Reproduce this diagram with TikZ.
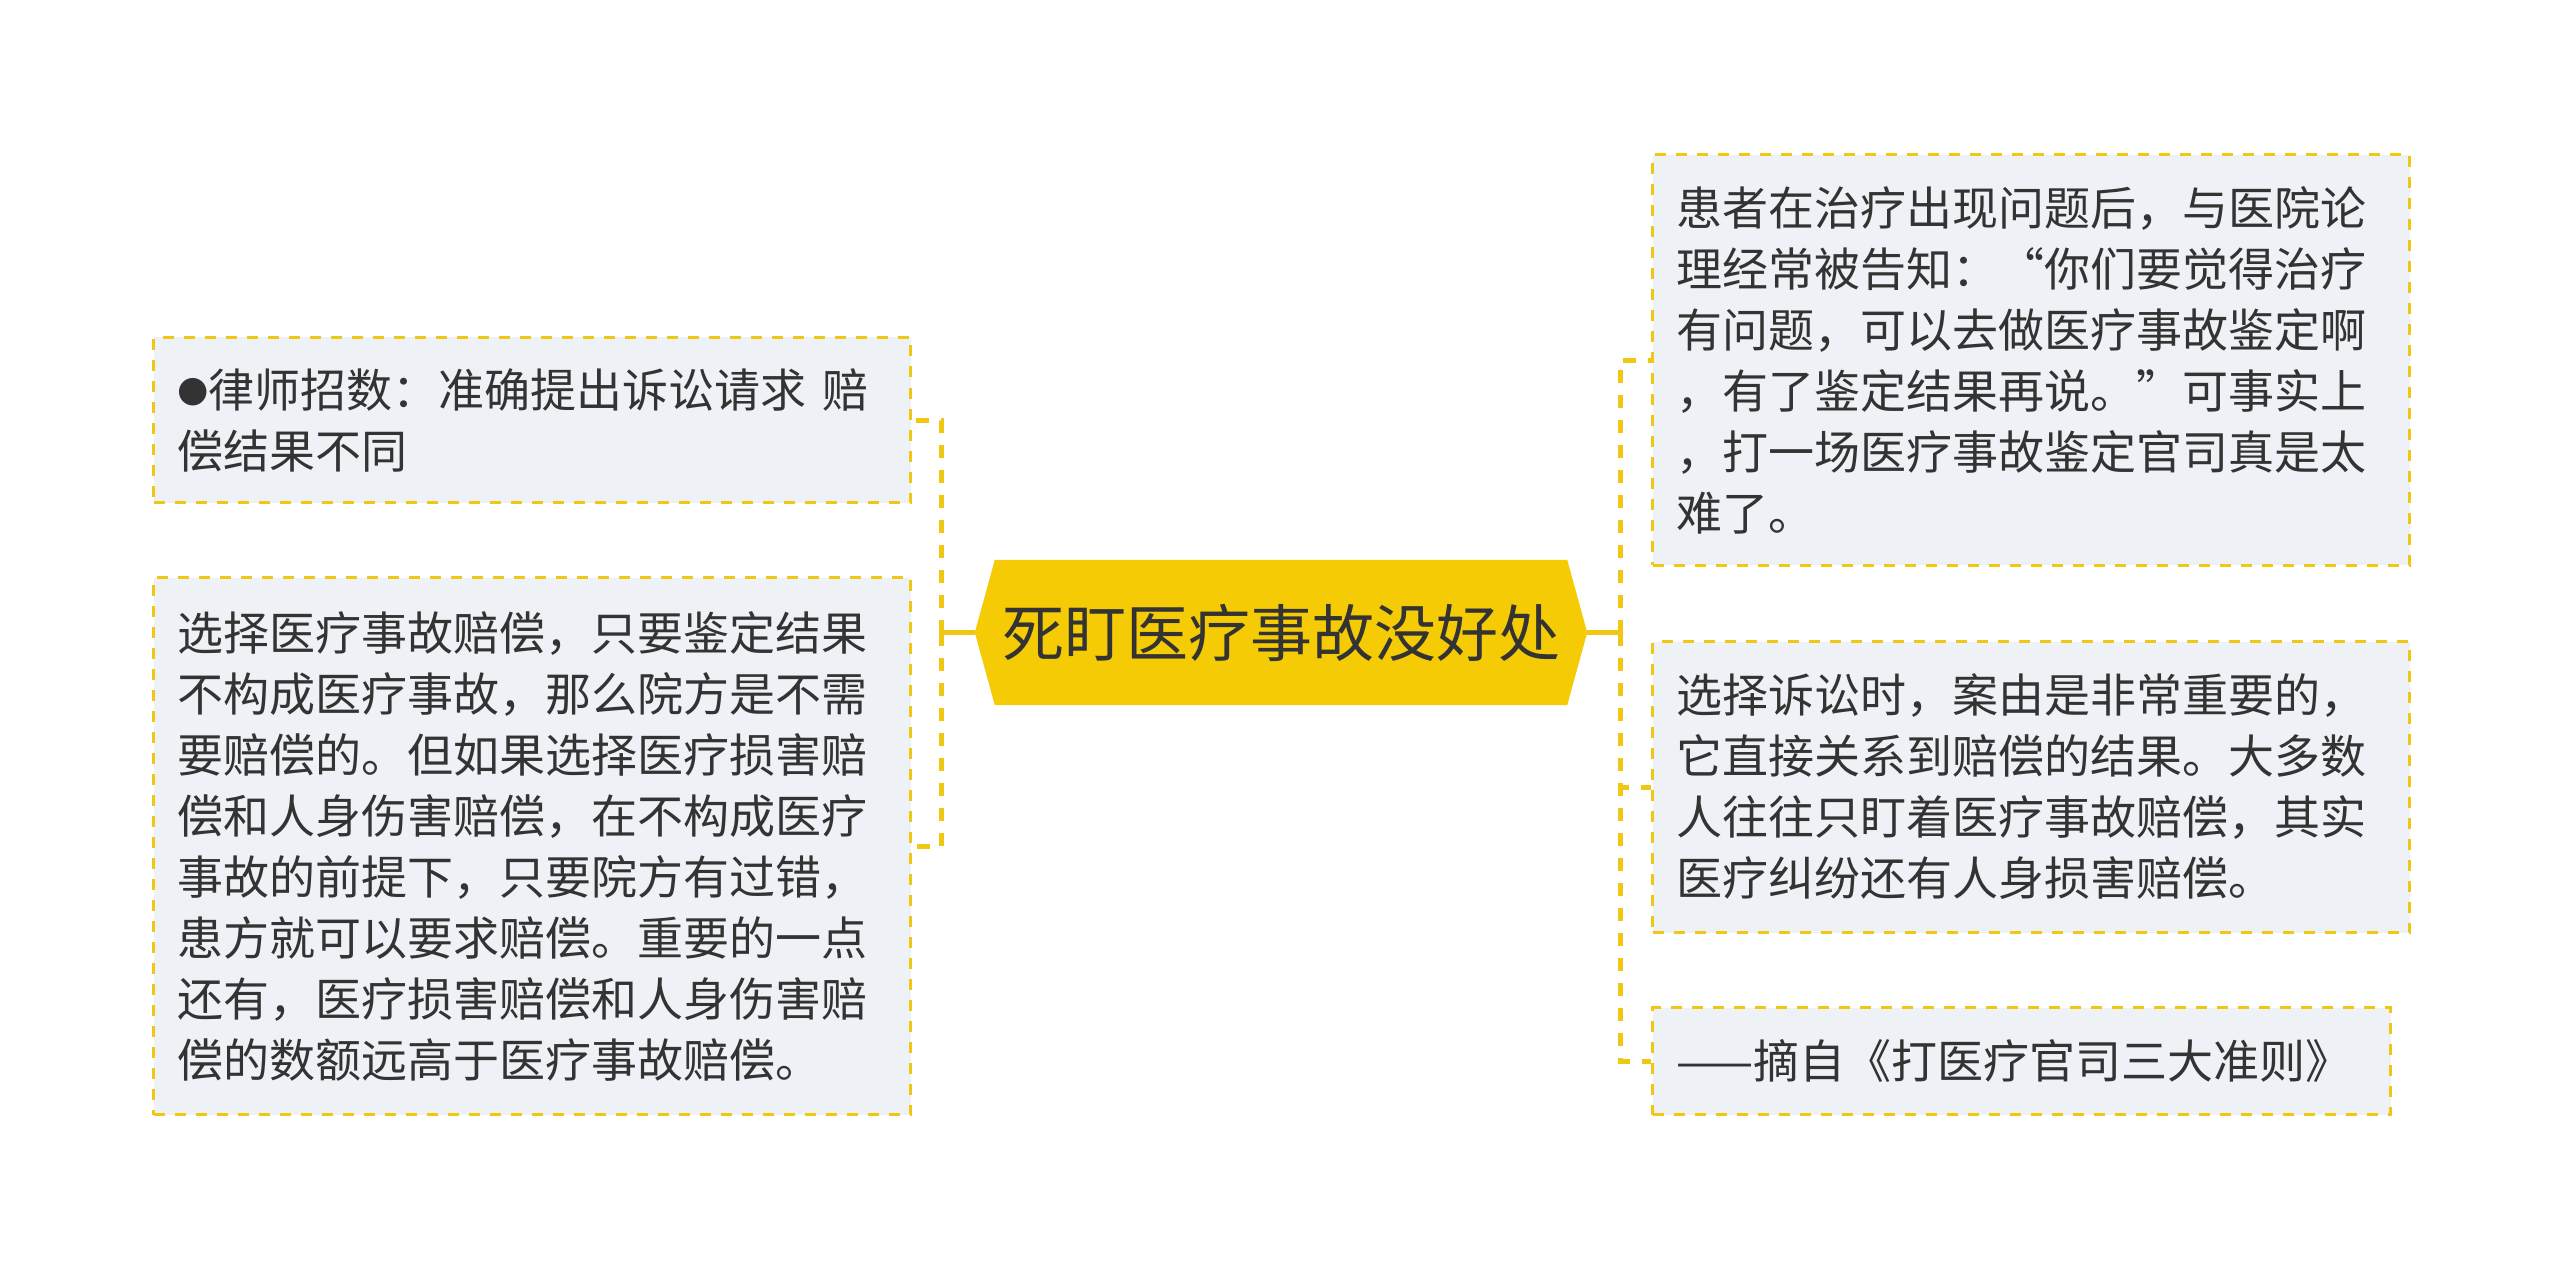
\documentclass[tikz,border=0pt]{standalone}
\usepackage{fontspec}
\setmainfont{Noto Sans CJK SC}
\newfontfamily\dejavu{DejaVu Sans}
\usetikzlibrary{backgrounds}
\definecolor{hexyellow}{HTML}{F5CB05}
\definecolor{dashyellow}{HTML}{F0C814}
\definecolor{boxfill}{HTML}{EEF1F5}
\definecolor{txt}{HTML}{333333}
\begin{document}
\begin{tikzpicture}[x=1pt,y=-1pt,
  leaf/.style={draw=dashyellow, line width=3pt, dash pattern=on 11pt off 10pt,
    fill=boxfill, anchor=north west, inner xsep=24pt, inner ysep=0pt,
    align=left, font=\fontsize{46}{61}\selectfont, text=txt},
  link/.style={draw=dashyellow, line width=5pt, dash pattern=on 13pt off 12pt},
  stub/.style={draw=dashyellow, line width=5pt},
  hexnode/.style={minimum width=612pt, minimum height=145pt, inner sep=0pt,
    font=\fontsize{62}{70}\selectfont, text=txt}]
\useasboundingbox (0,0) rectangle (2560,1265);

\node[hexnode] (c) at (1281,632.5) {死盯医疗事故没好处};
\coordinate (jl) at ([xshift=-33pt]c.west);
\coordinate (jr) at ([xshift=33pt]c.east);

\node[leaf, minimum width=757pt, minimum height=165pt, text width=709pt] (l1) at (152,336)
  {\raisebox{6pt}{\dejavu\fontsize{36}{61}\selectfont ●}律师招数：准确提出诉讼请求 赔\\偿结果不同};
\node[leaf, minimum width=757pt, minimum height=537pt, text width=709pt] (l2) at (152,576)
  {选择医疗事故赔偿，只要鉴定结果\\不构成医疗事故，那么院方是不需\\要赔偿的。但如果选择医疗损害赔\\偿和人身伤害赔偿，在不构成医疗\\事故的前提下，只要院方有过错，\\患方就可以要求赔偿。重要的一点\\还有，医疗损害赔偿和人身伤害赔\\偿的数额远高于医疗事故赔偿。};

\node[leaf, minimum width=757pt, minimum height=410pt, text width=709pt] (r1) at (1651,153.5)
  {患者在治疗出现问题后，与医院论\\理经常被告知：\makebox[1em][r]{“}你们要觉得治疗\\有问题，可以去做医疗事故鉴定啊\\，有了鉴定结果再说。\makebox[1em][l]{”}可事实上\\，打一场医疗事故鉴定官司真是太\\难了。};
\node[leaf, minimum width=757pt, minimum height=291pt, text width=709pt] (r2) at (1651,640)
  {选择诉讼时，案由是非常重要的，\\它直接关系到赔偿的结果。大多数\\人往往只盯着医疗事故赔偿，其实\\医疗纠纷还有人身损害赔偿。};
\node[leaf, minimum width=738pt, minimum height=107pt, text width=690pt] (r3) at (1651,1006)
  {——摘自《打医疗官司三大准则》};

\begin{scope}[on background layer]
\fill[white] (0,0) rectangle (2560,1265);
\fill[hexyellow] (c.west) -- ([xshift=20pt]c.north west) -- ([xshift=-20pt]c.north east)
  -- (c.east) -- ([xshift=-20pt]c.south east) -- ([xshift=20pt]c.south west) -- cycle;
\draw[stub] (c.west) -- (jl);
\draw[stub] (c.east) -- (jr);
\draw[link] (jl) |- (l1.east);
\draw[link] (jl) |- (l2.east);
\draw[link] (jr) |- (r1.west);
\draw[link] (jr) |- (r2.west);
\draw[link] (jr) |- (r3.west);
\end{scope}
\end{tikzpicture}
\end{document}
